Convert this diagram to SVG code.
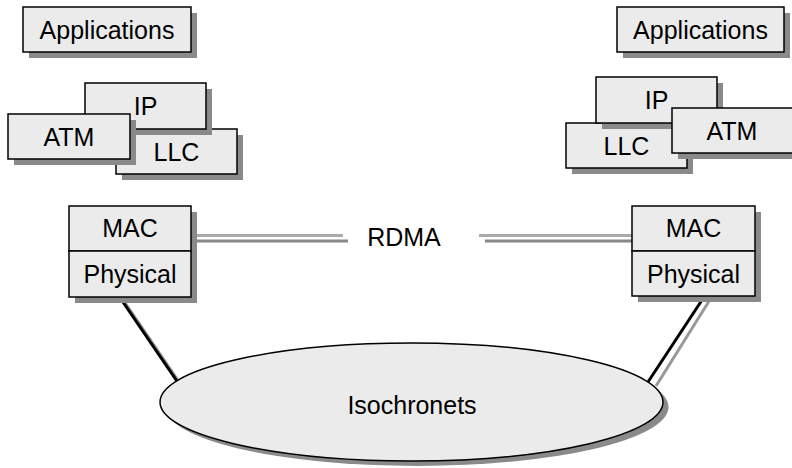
<svg xmlns="http://www.w3.org/2000/svg" width="792" height="468" viewBox="0 0 792 468">
<style>
.box{fill:#ebebeb;stroke:#000;stroke-width:1.5}
.sh{fill:#8a8a8a}
.t{font-family:"Liberation Sans",Arial,sans-serif;font-size:25px;fill:#000;text-anchor:middle}
</style>
<rect width="792" height="468" fill="#fff"/>
<g id="connectors">
<line x1="121" y1="297" x2="179" y2="382" stroke="#888" stroke-width="3"/>
<line x1="119.5" y1="297" x2="177.5" y2="382" stroke="#000" stroke-width="3"/>
<line x1="711" y1="298" x2="656" y2="386" stroke="#999" stroke-width="3"/>
<line x1="704" y1="297" x2="648" y2="382" stroke="#000" stroke-width="3"/>
<line x1="190" y1="235.5" x2="343" y2="235.5" stroke="#aaa" stroke-width="3"/>
<line x1="197" y1="241" x2="348" y2="241" stroke="#888" stroke-width="3"/>
<line x1="479" y1="235.5" x2="632" y2="235.5" stroke="#aaa" stroke-width="3"/>
<line x1="485" y1="241" x2="637" y2="241" stroke="#888" stroke-width="3"/>
</g>
<g id="isochronets">
<ellipse cx="417" cy="407" rx="251.5" ry="59" class="sh"/>
<ellipse cx="411.5" cy="402" rx="251.5" ry="59" class="box"/>
<text x="412" y="414" class="t">Isochronets</text>
</g>
<g id="rdma"><text x="404" y="246" class="t">RDMA</text></g>
<g id="app-left">
<rect x="29" y="13" width="168" height="45" class="sh"/>
<rect x="23" y="7" width="168" height="45" class="box"/>
<text x="107" y="38.5" class="t">Applications</text>
</g>
<g id="app-right">
<rect x="623" y="13" width="167" height="45" class="sh"/>
<rect x="617" y="7" width="167" height="45" class="box"/>
<text x="700.5" y="38.5" class="t">Applications</text>
</g>
<g id="llc-left">
<rect x="122" y="135" width="121" height="45" class="sh"/>
<rect x="116" y="129" width="121" height="45" class="box"/>
<text x="176.5" y="160.5" class="t">LLC</text>
</g>
<g id="ip-left">
<rect x="91" y="89" width="121" height="46" class="sh"/>
<rect x="85" y="83" width="121" height="46" class="box"/>
<text x="145.5" y="115" class="t">IP</text>
</g>
<g id="atm-left">
<rect x="14" y="120" width="122" height="45" class="sh"/>
<rect x="8" y="114" width="122" height="45" class="box"/>
<text x="69" y="145.5" class="t">ATM</text>
</g>
<g id="llc-right">
<rect x="572" y="129" width="121" height="45" class="sh"/>
<rect x="566" y="123" width="121" height="45" class="box"/>
<text x="626.5" y="154.5" class="t">LLC</text>
</g>
<g id="ip-right">
<rect x="602" y="83" width="121" height="46" class="sh"/>
<rect x="596" y="77" width="121" height="46" class="box"/>
<text x="656.5" y="109" class="t">IP</text>
</g>
<g id="atm-right">
<rect x="678" y="114" width="121" height="45" class="sh"/>
<rect x="672" y="108" width="121" height="45" class="box"/>
<text x="732" y="139.5" class="t">ATM</text>
</g>
<g id="stack-left">
<rect x="75" y="212" width="122" height="91" class="sh"/>
<rect x="69" y="206" width="122" height="45" class="box"/>
<rect x="69" y="251" width="122" height="46" class="box"/>
<text x="130" y="237" class="t">MAC</text>
<text x="130" y="283" class="t">Physical</text>
</g>
<g id="stack-right">
<rect x="638" y="212" width="123" height="90" class="sh"/>
<rect x="632" y="206" width="123" height="45" class="box"/>
<rect x="632" y="251" width="123" height="45" class="box"/>
<text x="693.5" y="237" class="t">MAC</text>
<text x="693.5" y="283" class="t">Physical</text>
</g>
</svg>
